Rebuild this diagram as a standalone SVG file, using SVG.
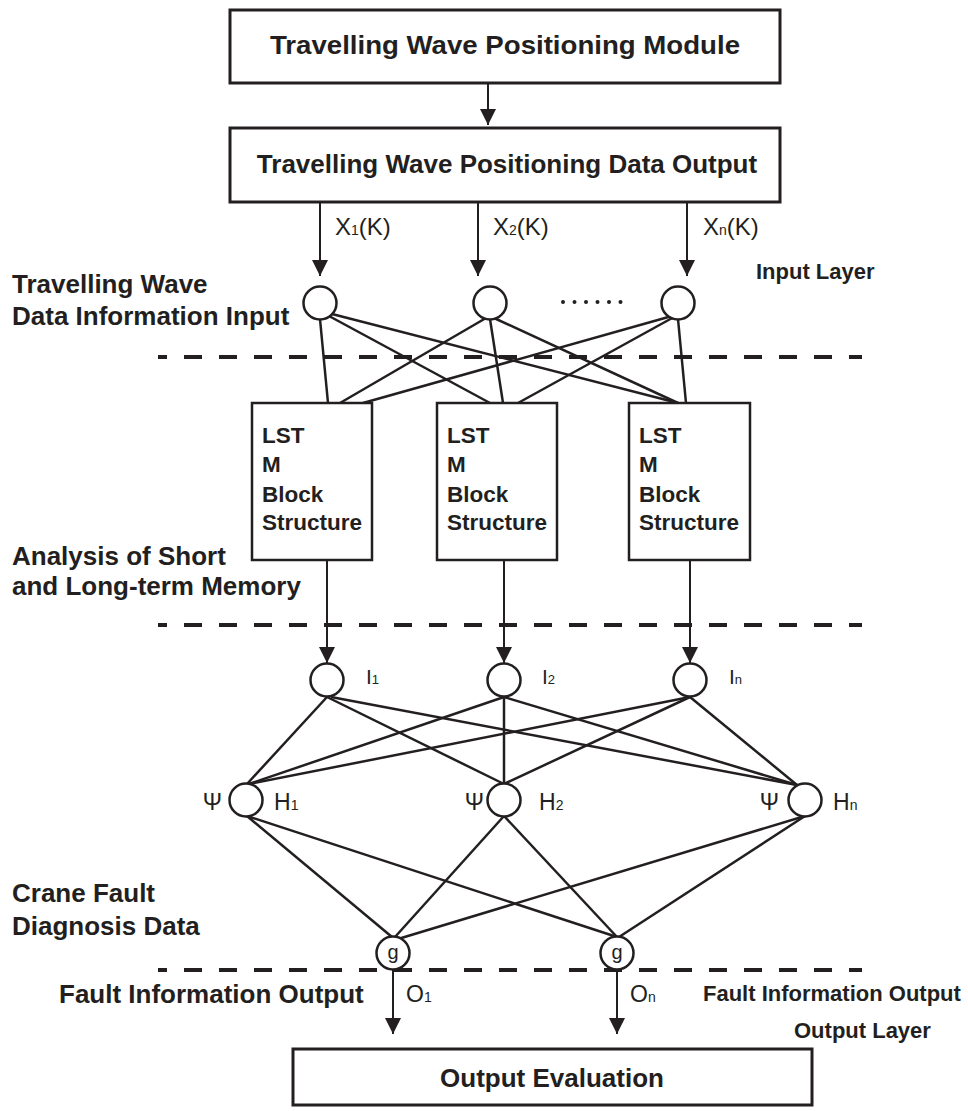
<svg xmlns="http://www.w3.org/2000/svg" width="968" height="1111" viewBox="0 0 968 1111">
<style>
.box{fill:#fff;stroke:#231f20;stroke-width:3}
.lbox{fill:#fff;stroke:#231f20;stroke-width:2.5}
.node{fill:#fff;stroke:#231f20;stroke-width:2.5}
.ln{stroke:#231f20;stroke-width:2.5;fill:none}
.arr{stroke:#231f20;stroke-width:2;fill:none;marker-end:url(#ah)}
.dash{stroke:#231f20;stroke-width:4;stroke-dasharray:18 17;stroke-dashoffset:9;fill:none}
.b{font-family:"Liberation Sans",Arial,sans-serif;font-weight:bold;fill:#231f20}
.r{font-family:"Liberation Sans",Arial,sans-serif;fill:#231f20}
</style>
<defs>
<marker id="ah" markerUnits="userSpaceOnUse" markerWidth="16" markerHeight="16" viewBox="0 0 16 16" refX="16" refY="8" orient="auto">
<path d="M0,0 L16,8 L0,16 Z" fill="#231f20"/>
</marker>
</defs>
<rect width="968" height="1111" fill="#fff"/>

<g id="dividers">
<line class="dash" x1="158" y1="357" x2="862" y2="357"/>
<line class="dash" x1="158" y1="625" x2="862" y2="625"/>
<line class="dash" x1="158" y1="970" x2="862" y2="970"/>
</g>

<g id="connectors">
<line class="arr" x1="488" y1="83" x2="488" y2="125"/>
<line class="arr" x1="320" y1="202" x2="320" y2="276"/>
<line class="arr" x1="478" y1="202" x2="478" y2="276"/>
<line class="arr" x1="687" y1="202" x2="687" y2="276"/>
<!-- input circles to LSTM boxes -->
<line class="ln" x1="320" y1="319" x2="328" y2="403"/>
<line class="ln" x1="329" y1="316" x2="490" y2="403"/>
<line class="ln" x1="332" y1="314" x2="678" y2="403"/>
<line class="ln" x1="486" y1="318" x2="340" y2="403"/>
<line class="ln" x1="490" y1="319" x2="503" y2="403"/>
<line class="ln" x1="494" y1="318" x2="678" y2="403"/>
<line class="ln" x1="672" y1="316" x2="363" y2="403"/>
<line class="ln" x1="674" y1="317" x2="518" y2="403"/>
<line class="ln" x1="678" y1="319" x2="686" y2="403"/>
<!-- LSTM to I -->
<line class="arr" x1="327" y1="560" x2="327" y2="663"/>
<line class="arr" x1="504" y1="560" x2="504" y2="663"/>
<line class="arr" x1="690" y1="560" x2="690" y2="663"/>
<!-- I to H -->
<line class="ln" x1="327" y1="697" x2="247" y2="784"/>
<line class="ln" x1="327" y1="697" x2="504" y2="784"/>
<line class="ln" x1="331" y1="697" x2="797" y2="785"/>
<line class="ln" x1="504" y1="697" x2="249" y2="784"/>
<line class="ln" x1="504" y1="697" x2="504" y2="784"/>
<line class="ln" x1="504" y1="697" x2="797" y2="785"/>
<line class="ln" x1="690" y1="697" x2="249" y2="784"/>
<line class="ln" x1="690" y1="697" x2="504" y2="784"/>
<line class="ln" x1="690" y1="697" x2="797" y2="785"/>
<!-- H to g -->
<line class="ln" x1="247" y1="816" x2="392" y2="937"/>
<line class="ln" x1="247" y1="816" x2="617" y2="937"/>
<line class="ln" x1="504" y1="816" x2="395" y2="937"/>
<line class="ln" x1="504" y1="816" x2="617" y2="937"/>
<line class="ln" x1="805" y1="816" x2="398" y2="939"/>
<line class="ln" x1="805" y1="816" x2="619" y2="937"/>
<!-- outputs -->
<line class="arr" x1="393" y1="970" x2="393" y2="1034"/>
<line class="arr" x1="617" y1="970" x2="617" y2="1034"/>
</g>

<g id="module">
<rect class="box" x="230" y="10" width="550" height="73"/>
<text class="b" x="505" y="54" font-size="26" text-anchor="middle" textLength="470" lengthAdjust="spacingAndGlyphs">Travelling Wave Positioning Module</text>
</g>
<g id="data-output">
<rect class="box" x="230" y="128" width="550" height="74"/>
<text class="b" x="507" y="173" font-size="26" text-anchor="middle">Travelling Wave Positioning Data Output</text>
</g>

<g id="x-labels" class="r" font-size="24">
<text x="335" y="235">X<tspan font-size="14">1</tspan>(K)</text>
<text x="493" y="235">X<tspan font-size="14">2</tspan>(K)</text>
<text x="703" y="235">X<tspan font-size="14">n</tspan>(K)</text>
</g>

<g id="input-nodes">
<circle class="node" cx="320" cy="303" r="16.5"/>
<circle class="node" cx="490" cy="303" r="16.5"/>
<circle class="node" cx="678" cy="303" r="16.5"/>
<g fill="#231f20">
<circle cx="563" cy="302" r="2"/><circle cx="574.5" cy="302" r="2"/><circle cx="586" cy="302" r="2"/>
<circle cx="597.5" cy="302" r="2"/><circle cx="609" cy="302" r="2"/><circle cx="620.5" cy="302" r="2"/>
</g>
</g>

<g id="lstm1">
<rect class="lbox" x="252" y="403" width="120" height="157"/>
<text class="b" font-size="22.5" x="262"><tspan x="262" y="443">LST</tspan><tspan x="262" y="472">M</tspan><tspan x="262" y="502">Block</tspan><tspan x="262" y="530">Structure</tspan></text>
</g>
<g id="lstm2">
<rect class="lbox" x="437" y="403" width="120" height="157"/>
<text class="b" font-size="22.5"><tspan x="447" y="443">LST</tspan><tspan x="447" y="472">M</tspan><tspan x="447" y="502">Block</tspan><tspan x="447" y="530">Structure</tspan></text>
</g>
<g id="lstm3">
<rect class="lbox" x="629" y="403" width="121" height="157"/>
<text class="b" font-size="22.5"><tspan x="639" y="443">LST</tspan><tspan x="639" y="472">M</tspan><tspan x="639" y="502">Block</tspan><tspan x="639" y="530">Structure</tspan></text>
</g>

<g id="i-nodes">
<circle class="node" cx="327" cy="680" r="16.5"/>
<circle class="node" cx="504" cy="680" r="16.5"/>
<circle class="node" cx="690" cy="680" r="16.5"/>
<g class="r" font-size="21">
<text x="366" y="684">I<tspan font-size="13">1</tspan></text>
<text x="542" y="684">I<tspan font-size="13">2</tspan></text>
<text x="729" y="684">I<tspan font-size="13">n</tspan></text>
</g>
</g>

<g id="h-nodes">
<circle class="node" cx="246" cy="800" r="16.5"/>
<circle class="node" cx="504" cy="800" r="16.5"/>
<circle class="node" cx="805" cy="800" r="16.5"/>
<g class="r" font-size="23">
<text x="222" y="810" text-anchor="end">Ψ</text>
<text x="484" y="810" text-anchor="end">Ψ</text>
<text x="779" y="810" text-anchor="end">Ψ</text>
<text x="274" y="810">H<tspan font-size="14">1</tspan></text>
<text x="539" y="810">H<tspan font-size="14">2</tspan></text>
<text x="833" y="810">H<tspan font-size="14">n</tspan></text>
</g>
</g>

<g id="g-nodes">
<circle class="node" cx="393" cy="953" r="16.5"/>
<circle class="node" cx="617" cy="953" r="16.5"/>
<text class="r" font-size="20" x="393" y="959" text-anchor="middle">g</text>
<text class="r" font-size="20" x="617" y="959" text-anchor="middle">g</text>
</g>

<g id="o-labels" class="r" font-size="23">
<text x="406" y="1002">O<tspan font-size="14">1</tspan></text>
<text x="630" y="1002">O<tspan font-size="14">n</tspan></text>
</g>

<g id="evaluation">
<rect class="box" x="293" y="1049" width="519" height="56"/>
<text class="b" x="552" y="1087" font-size="26" text-anchor="middle">Output Evaluation</text>
</g>

<g id="side-labels" class="b">
<text font-size="26"><tspan x="12" y="293">Travelling Wave</tspan><tspan x="12" y="325">Data Information Input</tspan></text>
<text font-size="26"><tspan x="12" y="565">Analysis of Short</tspan><tspan x="12" y="595">and Long-term Memory</tspan></text>
<text font-size="26"><tspan x="12" y="902">Crane Fault</tspan><tspan x="12" y="935">Diagnosis Data</tspan></text>
<text font-size="26" x="59" y="1003">Fault Information Output</text>
<text font-size="22" x="756" y="279">Input Layer</text>
<text font-size="22" x="703" y="1001">Fault Information Output</text>
<text font-size="22" x="794" y="1038">Output Layer</text>
</g>
</svg>
